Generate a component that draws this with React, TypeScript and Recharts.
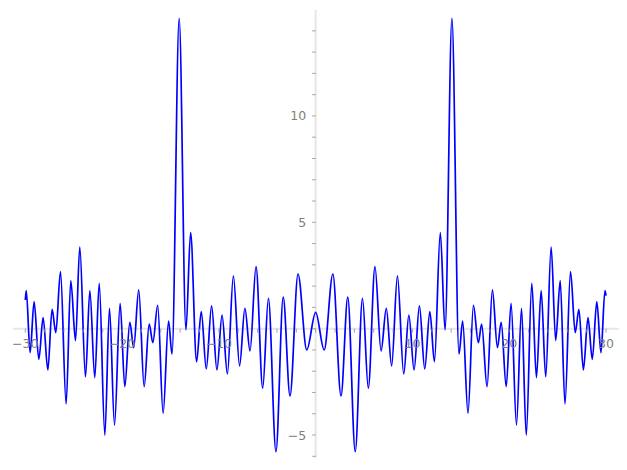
import React from 'react';
import { LineChart, Line, XAxis, YAxis, ReferenceLine } from 'recharts';

// turning points of the curve (x, then y)
const xs = [
  -30.0, -29.9, -29.5, -29.09, -28.6, -28.16, -27.67, -27.23, -26.85, -26.36,
  -25.78, -25.3, -24.81, -24.37, -23.78, -23.33, -22.82, -22.36, -21.78, -21.3,
  -20.78, -20.2, -19.72, -19.2, -18.8, -18.28, -17.72, -17.2, -16.82, -16.32,
  -15.76, -15.2, -14.84, -14.1, -13.4, -12.92, -12.3, -11.82, -11.3, -10.75,
  -10.2, -9.67, -9.12, -8.5, -7.86, -7.31, -6.78, -6.16, -5.47, -4.88,
  -4.1, -3.35, -2.65, -1.82, -0.92, 0,
  0.88, 1.78, 2.62, 3.32, 4.09, 4.84, 5.44, 6.13, 6.76, 7.3,
  7.85, 8.45, 9.1, 9.63, 10.17, 10.72, 11.27, 11.8, 12.27, 12.88,
  13.37, 14.08, 14.81, 15.19, 15.74, 16.3, 16.81, 17.15, 17.71, 18.26,
  18.78, 19.17, 19.69, 20.19, 20.75, 21.27, 21.76, 22.33, 22.81, 23.3,
  23.77, 24.33, 24.8, 25.27, 25.76, 26.33, 26.82, 27.2, 27.66, 28.14,
  28.58, 29.05, 29.48, 29.89, 30.0,
];

const ys = [
  1.35, 1.79, -1.13, 1.27, -1.44, 0.52, -1.94, 0.91, -0.19, 2.68,
  -3.54, 2.26, -0.56, 3.84, -2.26, 1.79, -2.3, 2.13, -5.0, 0.95,
  -4.53, 1.19, -2.73, 0.3, -0.89, 1.82, -2.73, 0.21, -0.66, 1.1,
  -3.98, 0.35, -1.19, 14.59, -0.06, 4.51, -1.55, 0.8, -1.89, 1.07,
  -1.94, 0.64, -2.13, 2.48, -1.75, 0.96, -1.05, 2.92, -2.8, 1.43,
  -5.78, 1.48, -3.16, 2.57, -1.0, 0.77,
  -1.0, 2.57, -3.16, 1.48, -5.78, 1.43, -2.8, 2.92, -1.05, 0.96,
  -1.75, 2.48, -2.13, 0.64, -1.94, 1.07, -1.89, 0.8, -1.55, 4.51,
  -0.06, 14.59, -1.19, 0.35, -3.98, 1.1, -0.66, 0.21, -2.73, 1.82,
  -0.89, 0.3, -2.73, 1.19, -4.53, 0.95, -5.0, 2.13, -2.3, 1.79,
  -2.26, 3.84, -0.56, 2.26, -3.54, 2.68, -0.19, 0.91, -1.94, 0.52,
  -1.44, 1.27, -1.13, 1.79, 1.55,
];

const xTicks = [
  -30, -28, -26, -24, -22, -20, -18, -16, -14, -12, -10, -8, -6, -4, -2, 0,
  2, 4, 6, 8, 10, 12, 14, 16, 18, 20, 22, 24, 26, 28, 30,
];
const xLabels = [-30, -20, -10, 10, 20, 30];
const yTicks = [-6, -5, -4, -3, -2, -1, 0, 1, 2, 3, 4, 5, 6, 7, 8, 9, 10, 11, 12, 13, 14];
const yLabels = [-5, 5, 10];

const X_DOMAIN: [number, number] = [-31.3, 31.3];
const Y_DOMAIN: [number, number] = [-6.08, 14.98];

const W = 627;
const H = 470;
const AXIS_SIZE = 1;
const M = { top: 10, right: 8.4, bottom: 12 - AXIS_SIZE, left: 12.7 - AXIS_SIZE };
const plotLeft = M.left + AXIS_SIZE;
const plotW = W - plotLeft - M.right;
const plotH = H - M.top - M.bottom - AXIS_SIZE;
// where the axes cross (x = 0, y = 0), from the same domains
const zeroX = plotLeft + (plotW * (0 - X_DOMAIN[0])) / (X_DOMAIN[1] - X_DOMAIN[0]);
const zeroY = M.top + (plotH * (Y_DOMAIN[1] - 0)) / (Y_DOMAIN[1] - Y_DOMAIN[0]);

const data = xs.map((x, i) => ({ x, y: ys[i] }));

const fmt = (v: number) => (v < 0 ? '\u2212' + Math.abs(v) : String(v));
const FONT = '"DejaVu Sans", sans-serif';

const renderXTick = (props: any) => {
  const { x, payload } = props;
  const v = payload.value;
  return (
    <g key={`xt-${v}`}>
      <line x1={x} x2={x} y1={zeroY} y2={zeroY + 4} stroke="#8c8c8c" strokeWidth={0.8} />
      {xLabels.includes(v) && (
        <text x={x} y={zeroY + 19} textAnchor="middle" fill="#808080" fontSize={12.5} fontFamily={FONT}>
          {fmt(v)}
        </text>
      )}
    </g>
  );
};

const renderYTick = (props: any) => {
  const { y, payload } = props;
  const v = payload.value;
  return (
    <g key={`yt-${v}`}>
      <line x1={zeroX - 3.5} x2={zeroX} y1={y} y2={y} stroke="#8c8c8c" strokeWidth={0.8} />
      {yLabels.includes(v) && (
        <text x={zeroX - 9.5} y={y + 4.5} textAnchor="end" fill="#808080" fontSize={12.5} fontFamily={FONT}>
          {fmt(v)}
        </text>
      )}
    </g>
  );
};

export default function App() {
  return (
    <div style={{ position: 'absolute', left: 0, top: 0, background: '#fff' }}>
      <LineChart width={W} height={H} data={data} margin={M}>
        <ReferenceLine y={0} stroke="#e6e6e6" strokeWidth={2} />
        <ReferenceLine x={0} stroke="#e6e6e6" strokeWidth={2} />
        <XAxis
          type="number"
          dataKey="x"
          domain={X_DOMAIN}
          ticks={xTicks}
          interval={0}
          allowDataOverflow
          height={AXIS_SIZE}
          axisLine={false}
          tickLine={false}
          tick={renderXTick}
        />
        <YAxis
          type="number"
          domain={Y_DOMAIN}
          ticks={yTicks}
          interval={0}
          allowDataOverflow
          width={AXIS_SIZE}
          axisLine={false}
          tickLine={false}
          tick={renderYTick}
        />
        <Line
          type="monotone"
          dataKey="y"
          stroke="#0000ff"
          strokeWidth={1.7}
          dot={false}
          isAnimationActive={false}
        />
      </LineChart>
    </div>
  );
}
